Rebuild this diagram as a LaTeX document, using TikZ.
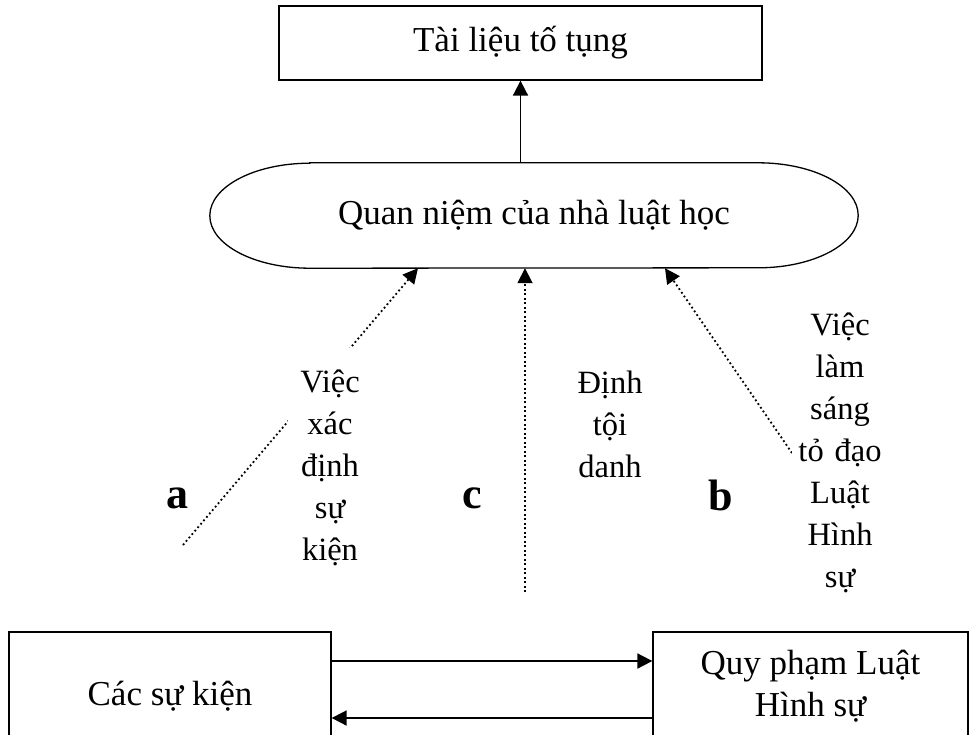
\documentclass[tikz,border=0pt]{standalone}
\usepackage{fontspec}
\setmainfont{Liberation Serif}
\usetikzlibrary{arrows.meta,calc}
\begin{document}
\begin{tikzpicture}[x=1pt,y=-1pt,
  every node/.style={font=\fontsize{35}{42}\selectfont},
  box/.style={draw, line width=1.3pt, inner sep=0pt},
  arr/.style={line width=1.8pt, -{Triangle[length=15pt,width=15pt]}},
  dotarr/.style={line width=1.8pt, dash pattern=on 1.8pt off 2.7pt, -{Triangle[length=15pt,width=15pt]}},
  lbl/.style={font=\fontsize{32.5}{42}\selectfont, fill=white, inner xsep=0pt, inner ysep=4pt, align=center, anchor=north},
  letter/.style={font=\fontsize{44}{44}\selectfont\bfseries, anchor=base}]

\useasboundingbox (0,0) rectangle (974,734);
\clip (0,0) rectangle (974,734);
\fill[white] (0,0) rectangle (974,734);

% top box
\node[box, minimum width=483pt, minimum height=74pt] (t) at (520.5,43) {Tài liệu tố tụng};

% terminator shape with elliptical ends
\node[minimum width=648pt, minimum height=105pt, inner sep=0pt] (q) at (534,215.5) {Quan niệm của nhà luật học};
\draw[line width=1.3pt] ([xshift=100pt]q.north west) -- ([xshift=-100pt]q.north east)
  arc[start angle=90, end angle=-90, x radius=100pt, y radius=52.5pt]
  -- ([xshift=100pt]q.south west)
  arc[start angle=270, end angle=90, x radius=100pt, y radius=52.5pt] -- cycle;

\draw[arr] (t.south |- q.north) -- (t.south);

% dotted influences
\coordinate (a0) at (183,545);
\coordinate (c0) at (525,592);
\coordinate (b0) at (792,453);
\draw[dotarr] (a0) -- ([xshift=-116pt]q.south);
\draw[dotarr] (c0) -- (c0 |- q.south);
\draw[dotarr] (b0) -- ([xshift=131pt]q.south);

% labels
\node[lbl, text width=84pt] (la) at (330,348) {\rule{0pt}{40pt}Việc\\xác\\định\\sự\\kiện};
\node[lbl, text width=76pt] (lc) at (610,349) {\rule{0pt}{40pt}Định\\tội\\danh};
\node[lbl, text width=96pt] (lb) at (840,291) {\rule{0pt}{40pt}Việc\\làm\\sáng\\tỏ đạo\\Luật\\Hình\\sự};

\node[letter] (ka) at (177,508) {a};
\node[letter] (kc) at (472,508) {c};
\node[letter] (kb) at (721,510) {b};

% bottom boxes
\node[box, minimum width=322pt, minimum height=128pt] (L) at (170,696) {Các sự kiện};
\node[box, minimum width=315pt, minimum height=128pt] (R) at (810.5,696) {};
\node[anchor=north, align=center, inner sep=0pt] (Rt) at (810.5,634) {\rule{0pt}{40pt}Quy phạm Luật\\Hình sự};
\draw[arr] ([yshift=35pt]L.east) -- ([yshift=35pt]R.west);
\draw[arr] ([yshift=-22pt]R.west) -- ([yshift=-22pt]L.east);
\end{tikzpicture}
\end{document}
